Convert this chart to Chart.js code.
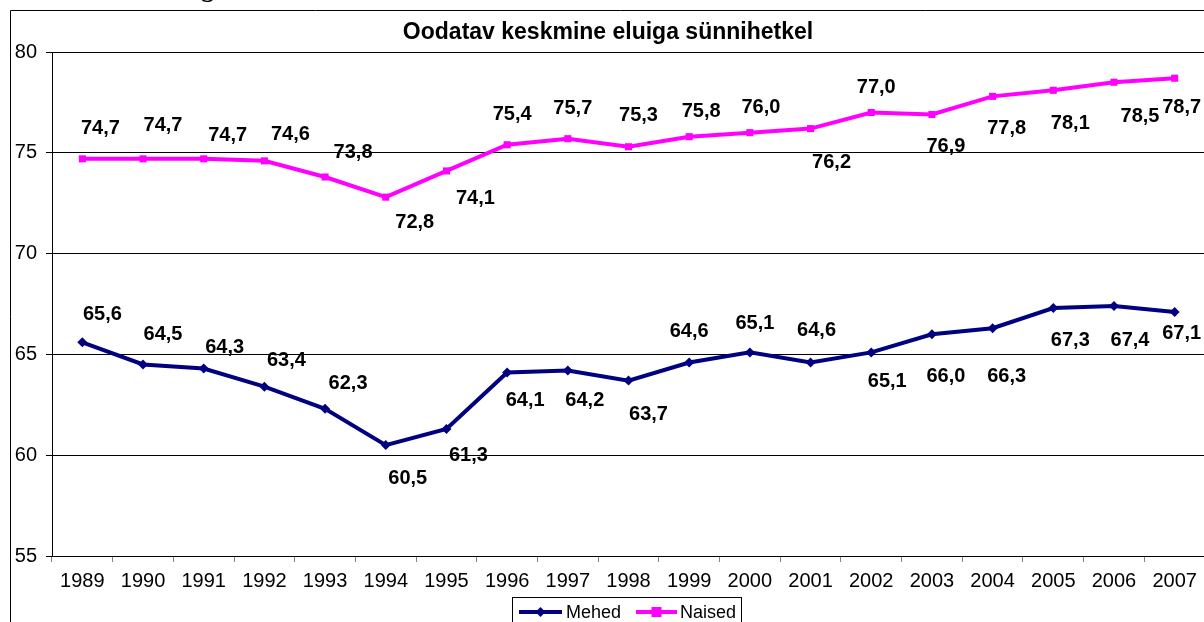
<!DOCTYPE html>
<html>
<head>
<meta charset="utf-8">
<script src="https://cdn.jsdelivr.net/npm/chart.js@4.4.1/dist/chart.umd.min.js"></script>
<style>
html, body { margin: 0; padding: 0; overflow: hidden; background: #fff; }
#wrap { width: 1230px; height: 622px; position: relative; }
</style>
</head>
<body>
<div id="wrap"><canvas id="eluigaChart" width="1230" height="622"></canvas></div>
<script>
const years = ['1989', '1990', '1991', '1992', '1993', '1994', '1995', '1996', '1997', '1998',
    '1999', '2000', '2001', '2002', '2003', '2004', '2005', '2006', '2007'];
const mehed = [65.6, 64.5, 64.3, 63.4, 62.3, 60.5, 61.3, 64.1, 64.2, 63.7,
    64.6, 65.1, 64.6, 65.1, 66.0, 66.3, 67.3, 67.4, 67.1];
const naised = [74.7, 74.7, 74.7, 74.6, 73.8, 72.8, 74.1, 75.4, 75.7, 75.3,
    75.8, 76.0, 76.2, 77.0, 76.9, 77.8, 78.1, 78.5, 78.7];
const chartTitle = 'Oodatav keskmine eluiga sünnihetkel';

// where each value label sits relative to its point (px), as placed in the original
const mehedLabelShift = [[20, -28], [20, -30], [21, -21], [22, -26], [23, -25], [22, 33], [22, 26],
    [18, 28], [17, 30], [20, 34], [0, -31], [5, -29], [6, -32], [16, 29], [14, 42], [14, 48],
    [17, 32], [16, 34], [7, 21]];
const naisedLabelShift = [[18, -30], [20, -33], [24, -23], [26, -26], [28, -25], [29, 25], [29, 28],
    [5, -30], [5, -30], [10, -31], [12, -25], [11, -25], [21, 34], [5, -25], [14, 32], [14, 32],
    [17, 33], [26, 34], [7, 29]];

const FONT = '"Liberation Sans", Arial, sans-serif';

function initEluigaChart() {
    const ctx = document.getElementById('eluigaChart').getContext('2d');

    const decorations = {
        id: 'decorations',
        beforeDraw(chart) {
            const c = chart.ctx;
            c.save();
            c.fillStyle = '#fff';
            c.fillRect(0, 0, chart.width, chart.height);
            c.restore();
        },
        afterDatasetsDraw(chart) {
            const c = chart.ctx;
            const shifts = [mehedLabelShift, naisedLabelShift];
            c.save();
            c.font = 'bold 20px ' + FONT;
            c.fillStyle = '#000';
            c.textAlign = 'center';
            c.textBaseline = 'middle';
            chart.data.datasets.forEach((ds, di) => {
                const meta = chart.getDatasetMeta(di);
                meta.data.forEach((pt, i) => {
                    const s = shifts[di][i];
                    const txt = ds.data[i].toFixed(1).replace('.', ',');
                    c.fillText(txt, pt.x + s[0], pt.y + s[1]);
                });
            });
            c.restore();
        },
        afterDraw(chart) {
            const c = chart.ctx;
            c.save();
            // outer frame
            c.strokeStyle = '#000';
            c.lineWidth = 1;
            c.beginPath();
            c.moveTo(10.5, chart.height + 5);
            c.lineTo(10.5, 10.5);
            c.lineTo(chart.width + 5, 10.5);
            c.stroke();

            // cut-off heading above the chart
            c.font = 'bold 26px "Liberation Serif", "DejaVu Serif", serif';
            c.fillStyle = '#000';
            c.textBaseline = 'alphabetic';
            const pre = c.measureText('Elui').width;
            c.fillText('Eluiga', 201 - pre, -3);

            // title
            c.font = 'bold 23px ' + FONT;
            c.textAlign = 'center';
            c.textBaseline = 'middle';
            c.fillText(chartTitle, 608, 33);

            // legend
            c.strokeStyle = '#000';
            c.strokeRect(512.5, 597.5, 229, 40);
            c.font = '18px ' + FONT;
            c.textAlign = 'left';
            const items = [
                { ds: chart.data.datasets[0], x0: 519, x1: 562, tx: 566 },
                { ds: chart.data.datasets[1], x0: 636, x1: 677, tx: 680 }
            ];
            items.forEach(it => {
                const y = 612;
                c.strokeStyle = it.ds.borderColor;
                c.lineWidth = 4;
                c.beginPath();
                c.moveTo(it.x0, y);
                c.lineTo(it.x1, y);
                c.stroke();
                const mx = (it.x0 + it.x1) / 2;
                c.fillStyle = it.ds.borderColor;
                c.beginPath();
                if (it.ds.pointStyle === 'rectRot') {
                    c.moveTo(mx, y - 5); c.lineTo(mx + 5, y); c.lineTo(mx, y + 5); c.lineTo(mx - 5, y);
                } else {
                    c.rect(mx - 5, y - 5, 10, 10);
                }
                c.closePath();
                c.fill();
                c.fillStyle = '#000';
                c.fillText(it.ds.label, it.tx, y + 1);
            });
            c.restore();
        }
    };

    new Chart(ctx, {
        type: 'line',
        data: {
            labels: years,
            datasets: [
                {
                    label: 'Mehed',
                    data: mehed,
                    borderColor: '#000080',
                    backgroundColor: '#000080',
                    borderWidth: 4,
                    pointStyle: 'rectRot',
                    pointRadius: 5,
                    pointBorderWidth: 0,
                    tension: 0
                },
                {
                    label: 'Naised',
                    data: naised,
                    borderColor: '#ff00ff',
                    backgroundColor: '#ff00ff',
                    borderWidth: 4,
                    pointStyle: 'rect',
                    pointRadius: 5,
                    pointBorderWidth: 0,
                    tension: 0
                }
            ]
        },
        options: {
            responsive: false,
            animation: false,
            layout: { padding: { top: 52, right: 25, left: 0, bottom: 0 } },
            plugins: {
                legend: { display: false },
                title: { display: false },
                tooltip: { enabled: false }
            },
            scales: {
                x: {
                    offset: true,
                    grid: { offset: true, drawOnChartArea: false, tickLength: 6, tickColor: '#808080' },
                    border: { color: '#000', width: 1 },
                    ticks: { color: '#000', font: { family: FONT, size: 20 }, padding: 7, maxRotation: 0, autoSkip: false },
                    afterFit: s => { s.height = 66; }
                },
                y: {
                    min: 55,
                    max: 80,
                    ticks: { stepSize: 5, color: '#000', font: { family: FONT, size: 20 }, padding: 9 },
                    grid: { color: '#000', lineWidth: 1, tickLength: 6, tickColor: '#000' },
                    border: { color: '#000', width: 1 },
                    afterFit: s => { s.width = 52; }
                }
            }
        },
        plugins: [decorations]
    });
}

if (typeof Chart !== 'undefined') {
    initEluigaChart();
} else {
    window.addEventListener('load', initEluigaChart);
}
</script>
</body>
</html>
